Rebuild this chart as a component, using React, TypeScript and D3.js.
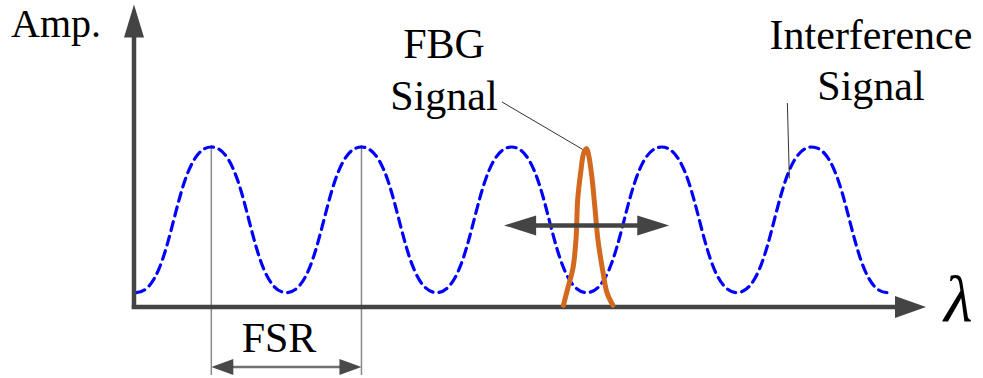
import React from "react";
import * as d3 from "d3";

// Interference comb: alternating minima / maxima (one FSR = 2 units of λ)
const interferenceLambda = [0, 1, 2, 3, 4, 5, 6, 7, 8, 9, 10];
const interferenceAmp = [0.09, 1, 0.09, 1, 0.09, 1, 0.09, 1, 0.09, 1, 0.09];

// Narrow FBG reflection peak
const fbgLambda = [5.69, 5.75, 5.82, 5.86, 5.88, 5.92, 5.96, 6.0, 6.03, 6.07, 6.11, 6.15, 6.22, 6.27, 6.35];
const fbgAmp = [0.01, 0.12, 0.25, 0.44, 0.67, 0.84, 0.96, 0.99, 0.94, 0.81, 0.62, 0.42, 0.21, 0.09, 0.01];

// Annotation anchors in data units
const fsrPeaks = [1, 3];
const shiftRange = [4.9, 7.1];
const shiftAmp = 0.51;
const interferenceLeaderLambda = 8.7;

// Text labels
const labels = [
  { text: "Amp.", x: 11, y: 37, anchor: "start", size: 40 },
  { text: "FBG", x: 444, y: 58, anchor: "middle", size: 42 },
  { text: "Signal", x: 444, y: 110, anchor: "middle", size: 42 },
  { text: "Interference", x: 871, y: 49, anchor: "middle", size: 42 },
  { text: "Signal", x: 871, y: 100, anchor: "middle", size: 42 },
  { text: "FSR", x: 279, y: 352, anchor: "middle", size: 42 },
];

const W = 983;
const H = 378;
const AXIS = "#444444";

export default function App() {
  const x = d3.scaleLinear().domain([-0.03, 10.52]).range([134, 926]);
  const y = d3.scaleLinear().domain([0, 1]).range([307, 147]);

  const x0 = x(-0.03);
  const y0 = y(0);
  const xEnd = x(10.52);
  const yTop = y(1.89);

  const wave = d3
    .line<number>()
    .x((_, i) => x(interferenceLambda[i]))
    .y((d) => y(d))
    .curve(d3.curveBumpX)(interferenceAmp) as string;

  const fbg = d3
    .line<number>()
    .x((_, i) => x(fbgLambda[i]))
    .y((d) => y(d))
    .curve(d3.curveCatmullRom)(fbgAmp) as string;

  // Amplitude of the comb at a given λ (bump-curve between extrema)
  const combAt = (l: number) => {
    const i = Math.min(Math.floor(l), interferenceLambda.length - 2);
    const t = l - interferenceLambda[i];
    const s = 3 * t * t - 2 * t * t * t;
    return interferenceAmp[i] + (interferenceAmp[i + 1] - interferenceAmp[i]) * s;
  };

  const fsrL = x(fsrPeaks[0]);
  const fsrR = x(fsrPeaks[1]);
  const fsrY = y0 + 60;

  const sL = x(shiftRange[0]);
  const sR = x(shiftRange[1]);
  const sY = y(shiftAmp);

  const fbgTopI = 6;
  const intLx = x(interferenceLeaderLambda);
  const intLy = y(combAt(interferenceLeaderLambda));

  return (
    <svg width={W} height={H} style={{ position: "absolute", left: 0, top: 0, background: "#fff" }}>
      {/* FSR guide lines */}
      <line x1={fsrL} x2={fsrL} y1={y(1) - 2} y2={fsrY + 8} stroke="#8a8a8a" strokeWidth={1.5} />
      <line x1={fsrR} x2={fsrR} y1={y(1) - 2} y2={fsrY + 8} stroke="#8a8a8a" strokeWidth={1.5} />

      {/* interference signal */}
      <path d={wave} fill="none" stroke="#0000ff" strokeWidth={3.2} strokeDasharray="9 6" strokeLinecap="round" />

      {/* axes */}
      <line x1={x0} x2={x0} y1={y0 + 2} y2={yTop + 30} stroke={AXIS} strokeWidth={4.5} />
      <path d={`M${x0},${yTop} L${x0 - 10},${yTop + 33} L${x0 + 10},${yTop + 33} Z`} fill={AXIS} />
      <line x1={x0 - 2.2} x2={xEnd - 28} y1={y0} y2={y0} stroke={AXIS} strokeWidth={4.5} />
      <path d={`M${xEnd},${y0} L${xEnd - 31},${y0 - 11} L${xEnd - 31},${y0 + 11} Z`} fill={AXIS} />

      {/* FBG peak */}
      <path d={fbg} fill="none" stroke="#d2691e" strokeWidth={5} strokeLinejoin="round" strokeLinecap="round" />

      {/* tuning double arrow */}
      <line x1={sL + 28} x2={sR - 28} y1={sY} y2={sY} stroke={AXIS} strokeWidth={4.5} />
      <path d={`M${sL},${sY} L${sL + 32},${sY - 10} L${sL + 32},${sY + 10} Z`} fill={AXIS} />
      <path d={`M${sR},${sY} L${sR - 32},${sY - 10} L${sR - 32},${sY + 10} Z`} fill={AXIS} />

      {/* FSR arrow */}
      <line x1={fsrL + 18} x2={fsrR - 18} y1={fsrY} y2={fsrY} stroke="#707070" strokeWidth={2.5} />
      <path d={`M${fsrL},${fsrY} L${fsrL + 22},${fsrY - 8} L${fsrL + 22},${fsrY + 8} Z`} fill="#4a4a4a" />
      <path d={`M${fsrR},${fsrY} L${fsrR - 22},${fsrY - 8} L${fsrR - 22},${fsrY + 8} Z`} fill="#4a4a4a" />

      {/* leader lines */}
      <line x1={502} y1={102} x2={x(fbgLambda[fbgTopI]) - 1} y2={y(fbgAmp[fbgTopI]) - 4} stroke="#333" strokeWidth={1} />
      <line x1={intLx - 2} y1={103} x2={intLx} y2={intLy} stroke="#333" strokeWidth={1} />

      {/* labels */}
      {labels.map((l, i) => (
        <text
          key={i}
          x={l.x}
          y={l.y}
          textAnchor={l.anchor}
          fill="#000"
          style={{ fontFamily: '"Liberation Serif"', fontSize: l.size }}
        >
          {l.text}
        </text>
      ))}
      <text
        x={944}
        y={321}
        fill="#000"
        style={{ fontFamily: '"Liberation Serif"', fontSize: 66, fontStyle: "italic" }}
      >
        λ
      </text>
    </svg>
  );
}
